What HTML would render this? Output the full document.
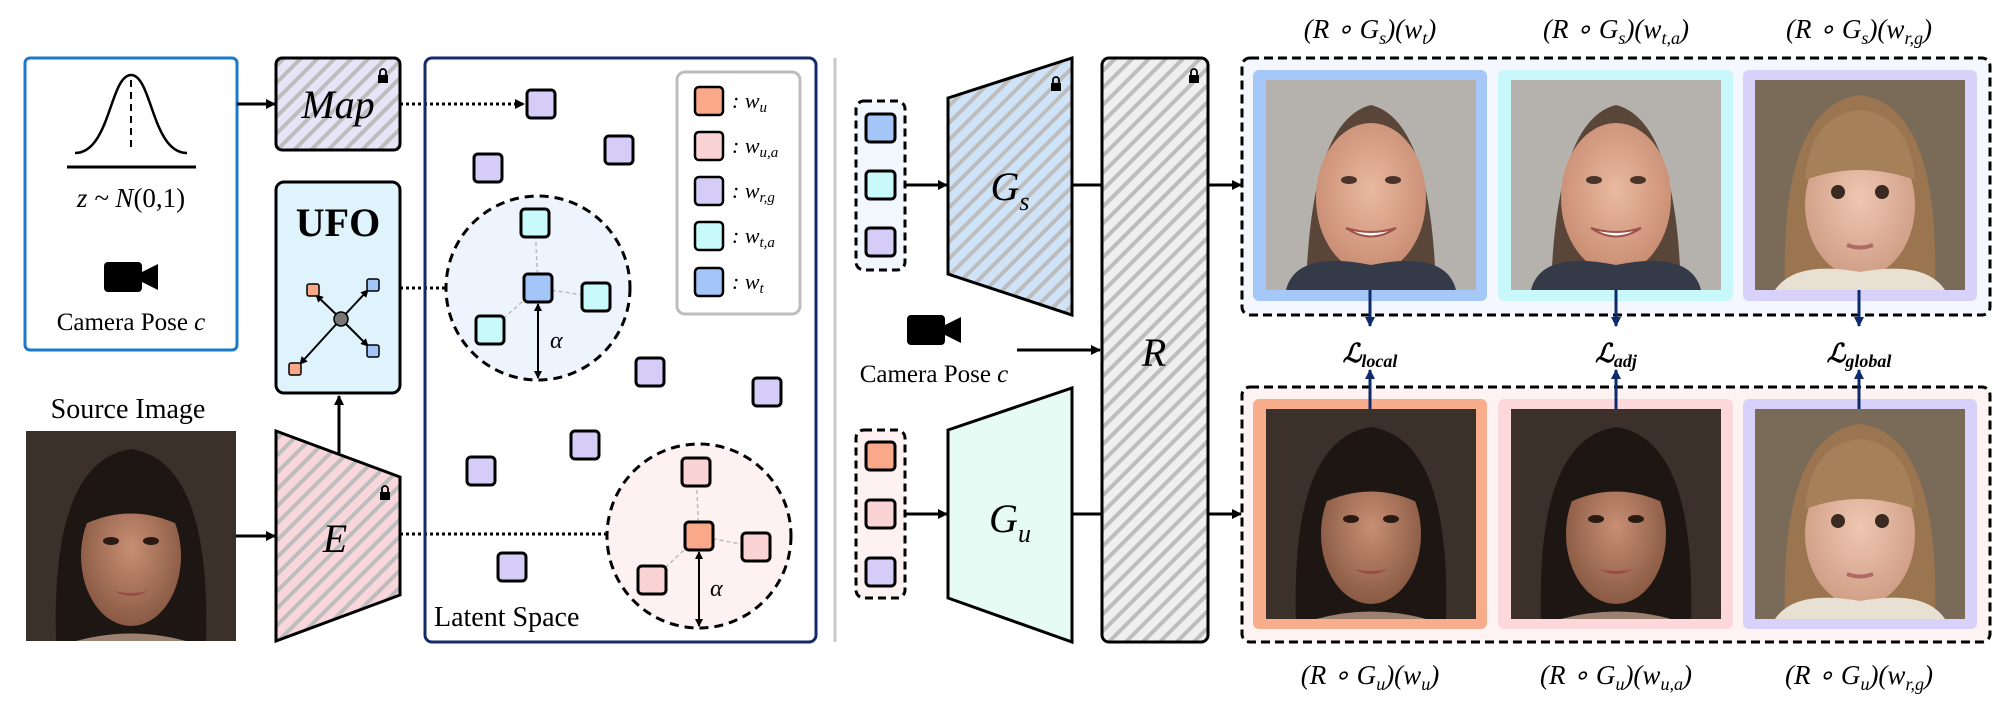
<!DOCTYPE html>
<html><head><meta charset="utf-8"><style>html,body{margin:0;padding:0;background:#fff}svg{display:block}</style></head>
<body>
<svg width="2007" height="715" viewBox="0 0 2007 715" xmlns="http://www.w3.org/2000/svg" font-family="Liberation Serif, serif">
<defs>
<pattern id="hGray" patternUnits="userSpaceOnUse" width="12" height="12" patternTransform="rotate(45)"><rect width="12" height="12" fill="#efefef"/><rect width="4" height="12" fill="#bdbdbd"/></pattern>
<pattern id="hLav" patternUnits="userSpaceOnUse" width="12" height="12" patternTransform="rotate(45)"><rect width="12" height="12" fill="#e8e4f8"/><rect width="4" height="12" fill="#bdbdbd"/></pattern>
<pattern id="hPink" patternUnits="userSpaceOnUse" width="12" height="12" patternTransform="rotate(45)"><rect width="12" height="12" fill="#f8d6dc"/><rect width="4" height="12" fill="#bdbdbd"/></pattern>
<pattern id="hBlue" patternUnits="userSpaceOnUse" width="12" height="12" patternTransform="rotate(45)"><rect width="12" height="12" fill="#cfe3f8"/><rect width="4" height="12" fill="#bdbdbd"/></pattern>
<marker id="ar" markerWidth="10" markerHeight="10" refX="9" refY="5" orient="auto" markerUnits="userSpaceOnUse"><path d="M0,0 L10,5 L0,10 z" fill="#000"/></marker>
<marker id="arn" markerWidth="10" markerHeight="10" refX="9" refY="5" orient="auto" markerUnits="userSpaceOnUse"><path d="M0,0 L10,5 L0,10 z" fill="#0d2a6b"/></marker>
<marker id="ars" markerWidth="8" markerHeight="8" refX="7" refY="4" orient="auto-start-reverse" markerUnits="userSpaceOnUse"><path d="M0,0 L8,4 L0,8 z" fill="#000"/></marker>
<radialGradient id="skinW" cx="50%" cy="45%" r="55%"><stop offset="0" stop-color="#e9b9a0"/><stop offset="1" stop-color="#c98e74"/></radialGradient>
<radialGradient id="skinD" cx="50%" cy="45%" r="55%"><stop offset="0" stop-color="#c88f74"/><stop offset="1" stop-color="#8a5a44"/></radialGradient>
<radialGradient id="skinC" cx="50%" cy="45%" r="55%"><stop offset="0" stop-color="#efc7b2"/><stop offset="1" stop-color="#d09e86"/></radialGradient>
<g id="lock"><rect x="-5" y="-1" width="10" height="8" fill="#000"/><path d="M-3,-1 v-3 a3,3 0 0 1 6,0 v3" fill="none" stroke="#000" stroke-width="1.8"/></g>
<g id="cam"><rect x="0" y="0" width="38" height="30" rx="4" fill="#000"/><path d="M38,10 L54,2 L54,28 L38,20z" fill="#000"/></g>
<g id="faceTop"><rect width="210" height="210" fill="#b5b1ac"/><path d="M40,210 Q45,40 105,25 Q165,40 170,210z" fill="#5a4638"/><ellipse cx="105" cy="118" rx="55" ry="75" fill="url(#skinW)"/><path d="M20,210 Q30,170 105,185 Q180,170 190,210z" fill="#343a48"/><ellipse cx="83" cy="100" rx="8" ry="4" fill="#4a3328"/><ellipse cx="127" cy="100" rx="8" ry="4" fill="#4a3328"/><path d="M80,148 Q105,165 130,148 Q105,156 80,148z" fill="#fff" stroke="#a0524a" stroke-width="2"/></g>
<g id="faceW"><rect width="210" height="210" fill="#3b302a"/><path d="M30,210 Q25,30 105,18 Q185,30 180,210z" fill="#1e1612"/><ellipse cx="105" cy="125" rx="50" ry="70" fill="url(#skinD)"/><path d="M55,95 Q60,40 105,35 Q150,40 155,95 Q105,70 55,95z" fill="#1e1612"/><ellipse cx="85" cy="110" rx="8" ry="4" fill="#2a1a14"/><ellipse cx="125" cy="110" rx="8" ry="4" fill="#2a1a14"/><path d="M88,160 Q105,170 122,160 Q105,164 88,160z" fill="#9c4a48"/><path d="M50,210 Q105,195 160,210z" fill="#9c8070"/></g>
<g id="faceC"><rect width="210" height="210" fill="#7a6a58"/><path d="M30,210 Q25,25 105,15 Q185,25 180,210z" fill="#9b7550"/><ellipse cx="105" cy="125" rx="55" ry="72" fill="url(#skinC)"/><path d="M50,100 Q55,35 105,30 Q155,35 160,100 Q105,80 50,100z" fill="#a58058"/><circle cx="83" cy="112" r="7" fill="#3a2a22"/><circle cx="127" cy="112" r="7" fill="#3a2a22"/><path d="M92,165 Q105,170 118,165" stroke="#b06a66" stroke-width="4" fill="none"/><path d="M20,210 Q40,180 105,192 Q170,180 190,210z" fill="#e8e0d2"/></g>
</defs>

<!-- Left blue box -->
<rect x="25" y="58" width="212" height="292" rx="5" fill="#fff" stroke="#1a7ac8" stroke-width="3"/>
<path d="M75,153 C110,153 110,75 131,75 C152,75 152,153 187,153" fill="none" stroke="#000" stroke-width="2.5"/>
<line x1="131" y1="80" x2="131" y2="150" stroke="#000" stroke-width="2" stroke-dasharray="7,5"/>
<line x1="67" y1="167" x2="196" y2="167" stroke="#000" stroke-width="3"/>
<text x="131" y="207" font-size="27" text-anchor="middle" font-style="italic">z ~ N<tspan font-style="normal">(0,1)</tspan></text>
<use href="#cam" x="104" y="262"/>
<text x="131" y="330" font-size="25" text-anchor="middle">Camera Pose <tspan font-style="italic">c</tspan></text>
<line x1="237" y1="104" x2="275" y2="104" stroke="#000" stroke-width="3" marker-end="url(#ar)"/>

<!-- Map -->
<rect x="276" y="58" width="124" height="92" rx="6" fill="url(#hLav)" stroke="#000" stroke-width="3"/>
<use href="#lock" x="383" y="76"/>
<text x="338" y="118" font-size="40" text-anchor="middle" font-style="italic">Map</text>
<line x1="400" y1="104" x2="524" y2="104" stroke="#000" stroke-width="3" stroke-dasharray="3,3" marker-end="url(#ar)"/>

<!-- UFO -->
<rect x="276" y="182" width="124" height="211" rx="8" fill="#dff3fd" stroke="#000" stroke-width="3"/>
<text x="338" y="236" font-size="40" font-weight="bold" text-anchor="middle">UFO</text>
<line x1="341" y1="319" x2="316" y2="295" stroke="#000" stroke-width="2" marker-end="url(#ars)"/>
<line x1="341" y1="319" x2="368" y2="290" stroke="#000" stroke-width="2" marker-end="url(#ars)"/>
<line x1="341" y1="319" x2="368" y2="346" stroke="#000" stroke-width="2" marker-end="url(#ars)"/>
<line x1="341" y1="319" x2="300" y2="364" stroke="#000" stroke-width="2" marker-end="url(#ars)"/>
<circle cx="341" cy="319" r="7" fill="#777" stroke="#000" stroke-width="1.5"/>
<rect x="307" y="284" width="12" height="12" rx="2" fill="#f9a98a" stroke="#000" stroke-width="1.5"/>
<rect x="367" y="279" width="12" height="12" rx="2" fill="#a3c5f8" stroke="#000" stroke-width="1.5"/>
<rect x="367" y="345" width="12" height="12" rx="2" fill="#a3c5f8" stroke="#000" stroke-width="1.5"/>
<rect x="289" y="363" width="12" height="12" rx="2" fill="#f9a98a" stroke="#000" stroke-width="1.5"/>
<line x1="400" y1="288" x2="522" y2="288" stroke="#000" stroke-width="3" stroke-dasharray="3,3" marker-end="url(#ar)"/>

<!-- Source image -->
<text x="128" y="418" font-size="28" text-anchor="middle">Source Image</text>
<use href="#faceW" transform="translate(26,431) scale(1.0,1.0)"/>
<line x1="236" y1="536" x2="275" y2="536" stroke="#000" stroke-width="3" marker-end="url(#ar)"/>

<!-- E -->
<path d="M276,431 L400,477 L400,595 L276,641 Z" fill="url(#hPink)" stroke="#000" stroke-width="3"/>
<use href="#lock" x="385" y="493"/>
<text x="335" y="552" font-size="40" text-anchor="middle" font-style="italic">E</text>
<line x1="339" y1="453" x2="339" y2="396" stroke="#000" stroke-width="3" marker-end="url(#ar)"/>
<line x1="400" y1="534" x2="682" y2="534" stroke="#000" stroke-width="3" stroke-dasharray="3,3" marker-end="url(#ar)"/>

<!-- Latent box -->
<rect x="425" y="58" width="391" height="584" rx="7" fill="none" stroke="#132a6b" stroke-width="3"/>
<rect x="677" y="72" width="123" height="242" rx="8" fill="#fff" stroke="#bdbdbd" stroke-width="3"/>
<g stroke="#000" stroke-width="2.5">
<rect x="695" y="87" width="28" height="28" rx="4" fill="#f9a98a"/>
<rect x="695" y="132" width="28" height="28" rx="4" fill="#fad4d4"/>
<rect x="695" y="177" width="28" height="28" rx="4" fill="#d5cdf7"/>
<rect x="695" y="222" width="28" height="28" rx="4" fill="#c9fafb"/>
<rect x="695" y="268" width="28" height="28" rx="4" fill="#a3c5f8"/>
</g>
<g font-size="22" font-style="italic">
<text x="732" y="108">: w<tspan font-size="15" dy="4">u</tspan></text>
<text x="732" y="153">: w<tspan font-size="15" dy="4">u,a</tspan></text>
<text x="732" y="198">: w<tspan font-size="15" dy="4">r,g</tspan></text>
<text x="732" y="243">: w<tspan font-size="15" dy="4">t,a</tspan></text>
<text x="732" y="289">: w<tspan font-size="15" dy="4">t</tspan></text>
</g>
<!-- blue circle -->
<circle cx="538" cy="288" r="92" fill="#eef4fd" stroke="#000" stroke-width="3" stroke-dasharray="9,6"/>
<g stroke="#bbb" stroke-width="1.5" stroke-dasharray="4,3"><line x1="538" y1="288" x2="535" y2="223"/><line x1="538" y1="288" x2="596" y2="297"/><line x1="538" y1="288" x2="490" y2="330"/></g>
<line x1="538" y1="304" x2="538" y2="378" stroke="#000" stroke-width="2" marker-start="url(#ars)" marker-end="url(#ars)"/>
<text x="550" y="348" font-size="24" font-style="italic">α</text>
<!-- pink circle -->
<circle cx="699" cy="536" r="92" fill="#fdf1f1" stroke="#000" stroke-width="3" stroke-dasharray="9,6"/>
<g stroke="#bbb" stroke-width="1.5" stroke-dasharray="4,3"><line x1="699" y1="536" x2="696" y2="472"/><line x1="699" y1="536" x2="756" y2="547"/><line x1="699" y1="536" x2="652" y2="580"/></g>
<line x1="699" y1="552" x2="699" y2="626" stroke="#000" stroke-width="2" marker-start="url(#ars)" marker-end="url(#ars)"/>
<text x="710" y="596" font-size="24" font-style="italic">α</text>
<g stroke="#000" stroke-width="3">
<rect x="527" y="90" width="28" height="28" rx="4" fill="#d5cdf7"/>
<rect x="474" y="154" width="28" height="28" rx="4" fill="#d5cdf7"/>
<rect x="605" y="136" width="28" height="28" rx="4" fill="#d5cdf7"/>
<rect x="636" y="358" width="28" height="28" rx="4" fill="#d5cdf7"/>
<rect x="753" y="378" width="28" height="28" rx="4" fill="#d5cdf7"/>
<rect x="571" y="431" width="28" height="28" rx="4" fill="#d5cdf7"/>
<rect x="467" y="457" width="28" height="28" rx="4" fill="#d5cdf7"/>
<rect x="498" y="553" width="28" height="28" rx="4" fill="#d5cdf7"/>
<rect x="521" y="209" width="28" height="28" rx="4" fill="#c9fafb"/>
<rect x="582" y="283" width="28" height="28" rx="4" fill="#c9fafb"/>
<rect x="476" y="316" width="28" height="28" rx="4" fill="#c9fafb"/>
<rect x="524" y="274" width="28" height="28" rx="4" fill="#a3c5f8"/>
<rect x="682" y="458" width="28" height="28" rx="4" fill="#fad4d4"/>
<rect x="742" y="533" width="28" height="28" rx="4" fill="#fad4d4"/>
<rect x="638" y="566" width="28" height="28" rx="4" fill="#fad4d4"/>
<rect x="685" y="522" width="28" height="28" rx="4" fill="#f9a98a"/>
</g>
<text x="434" y="626" font-size="28">Latent Space</text>

<!-- divider -->
<line x1="835" y1="58" x2="835" y2="642" stroke="#c8c8c8" stroke-width="3"/>

<!-- stacks -->
<rect x="856" y="101" width="49" height="169" rx="8" fill="#f2f6fd" stroke="#000" stroke-width="3" stroke-dasharray="8,5"/>
<g stroke="#000" stroke-width="3">
<rect x="866" y="114" width="29" height="28" rx="4" fill="#a3c5f8"/>
<rect x="866" y="171" width="29" height="28" rx="4" fill="#c9fafb"/>
<rect x="866" y="228" width="29" height="28" rx="4" fill="#d5cdf7"/>
</g>
<rect x="856" y="430" width="49" height="168" rx="8" fill="#fdf1f1" stroke="#000" stroke-width="3" stroke-dasharray="8,5"/>
<g stroke="#000" stroke-width="3">
<rect x="866" y="442" width="29" height="28" rx="4" fill="#f9a98a"/>
<rect x="866" y="500" width="29" height="28" rx="4" fill="#fad4d4"/>
<rect x="866" y="558" width="29" height="28" rx="4" fill="#d5cdf7"/>
</g>
<line x1="905" y1="185" x2="947" y2="185" stroke="#000" stroke-width="3" marker-end="url(#ar)"/>
<line x1="905" y1="514" x2="947" y2="514" stroke="#000" stroke-width="3" marker-end="url(#ar)"/>

<!-- Gs / Gu -->
<path d="M948,98 L1072,58 L1072,315 L948,274 Z" fill="url(#hBlue)" stroke="#000" stroke-width="3"/>
<use href="#lock" x="1056" y="84"/>
<text x="1010" y="200" font-size="40" text-anchor="middle" font-style="italic">G<tspan font-size="26" dy="10">s</tspan></text>
<path d="M948,430 L1072,388 L1072,642 L948,598 Z" fill="#e6fbf4" stroke="#000" stroke-width="3"/>
<text x="1010" y="532" font-size="40" text-anchor="middle" font-style="italic">G<tspan font-size="26" dy="10">u</tspan></text>
<line x1="1072" y1="185" x2="1102" y2="185" stroke="#000" stroke-width="3"/>
<line x1="1072" y1="514" x2="1102" y2="514" stroke="#000" stroke-width="3"/>
<use href="#cam" x="907" y="315"/>
<text x="934" y="382" font-size="25" text-anchor="middle">Camera Pose <tspan font-style="italic">c</tspan></text>
<line x1="1017" y1="350" x2="1100" y2="350" stroke="#000" stroke-width="3" marker-end="url(#ar)"/>

<!-- R -->
<rect x="1102" y="58" width="106" height="584" rx="7" fill="url(#hGray)" stroke="#000" stroke-width="3"/>
<use href="#lock" x="1194" y="76"/>
<text x="1154" y="366" font-size="40" text-anchor="middle" font-style="italic">R</text>
<line x1="1208" y1="185" x2="1241" y2="185" stroke="#000" stroke-width="3" marker-end="url(#ar)"/>
<line x1="1208" y1="514" x2="1241" y2="514" stroke="#000" stroke-width="3" marker-end="url(#ar)"/>

<!-- groups -->
<rect x="1242" y="58" width="748" height="257" rx="8" fill="#f4f7fd" stroke="#000" stroke-width="3" stroke-dasharray="9,5"/>
<rect x="1242" y="387" width="748" height="255" rx="8" fill="#fdf3f3" stroke="#000" stroke-width="3" stroke-dasharray="9,5"/>
<rect x="1253" y="70" width="234" height="231" rx="6" fill="#a6c8f8"/>
<rect x="1498" y="70" width="235" height="231" rx="6" fill="#c8f8fa"/>
<rect x="1743" y="70" width="234" height="231" rx="6" fill="#d8d2fa"/>
<rect x="1253" y="399" width="234" height="230" rx="6" fill="#f8ad8c"/>
<rect x="1498" y="399" width="235" height="230" rx="6" fill="#fcd8da"/>
<rect x="1743" y="399" width="234" height="230" rx="6" fill="#d8d2fa"/>
<use href="#faceTop" transform="translate(1266,80)"/>
<use href="#faceTop" transform="translate(1511,80)"/>
<use href="#faceC" transform="translate(1755,80)"/>
<use href="#faceW" transform="translate(1266,409)"/>
<use href="#faceW" transform="translate(1511,409)"/>
<use href="#faceC" transform="translate(1755,409)"/>

<!-- loss arrows -->
<g stroke="#0d2a6b" stroke-width="3">
<line x1="1370" y1="290" x2="1370" y2="326" marker-end="url(#arn)"/>
<line x1="1616" y1="290" x2="1616" y2="326" marker-end="url(#arn)"/>
<line x1="1859" y1="290" x2="1859" y2="326" marker-end="url(#arn)"/>
<line x1="1370" y1="409" x2="1370" y2="370" marker-end="url(#arn)"/>
<line x1="1616" y1="409" x2="1616" y2="370" marker-end="url(#arn)"/>
<line x1="1859" y1="409" x2="1859" y2="370" marker-end="url(#arn)"/>
</g>
<g font-size="26" font-weight="bold" font-style="italic" text-anchor="middle">
<text x="1370" y="362">ℒ<tspan font-size="18" dy="5">local</tspan></text>
<text x="1616" y="362">ℒ<tspan font-size="18" dy="5">adj</tspan></text>
<text x="1859" y="362">ℒ<tspan font-size="18" dy="5">global</tspan></text>
</g>

<!-- labels -->
<g font-size="27" text-anchor="middle" font-style="italic">
<text x="1370" y="38">(R ∘ G<tspan font-size="18" dy="6">s</tspan><tspan dy="-6">)(w</tspan><tspan font-size="18" dy="6">t</tspan><tspan dy="-6">)</tspan></text>
<text x="1616" y="38">(R ∘ G<tspan font-size="18" dy="6">s</tspan><tspan dy="-6">)(w</tspan><tspan font-size="18" dy="6">t,a</tspan><tspan dy="-6">)</tspan></text>
<text x="1859" y="38">(R ∘ G<tspan font-size="18" dy="6">s</tspan><tspan dy="-6">)(w</tspan><tspan font-size="18" dy="6">r,g</tspan><tspan dy="-6">)</tspan></text>
<text x="1370" y="684">(R ∘ G<tspan font-size="18" dy="6">u</tspan><tspan dy="-6">)(w</tspan><tspan font-size="18" dy="6">u</tspan><tspan dy="-6">)</tspan></text>
<text x="1616" y="684">(R ∘ G<tspan font-size="18" dy="6">u</tspan><tspan dy="-6">)(w</tspan><tspan font-size="18" dy="6">u,a</tspan><tspan dy="-6">)</tspan></text>
<text x="1859" y="684">(R ∘ G<tspan font-size="18" dy="6">u</tspan><tspan dy="-6">)(w</tspan><tspan font-size="18" dy="6">r,g</tspan><tspan dy="-6">)</tspan></text>
</g>
</svg>
</body></html>
